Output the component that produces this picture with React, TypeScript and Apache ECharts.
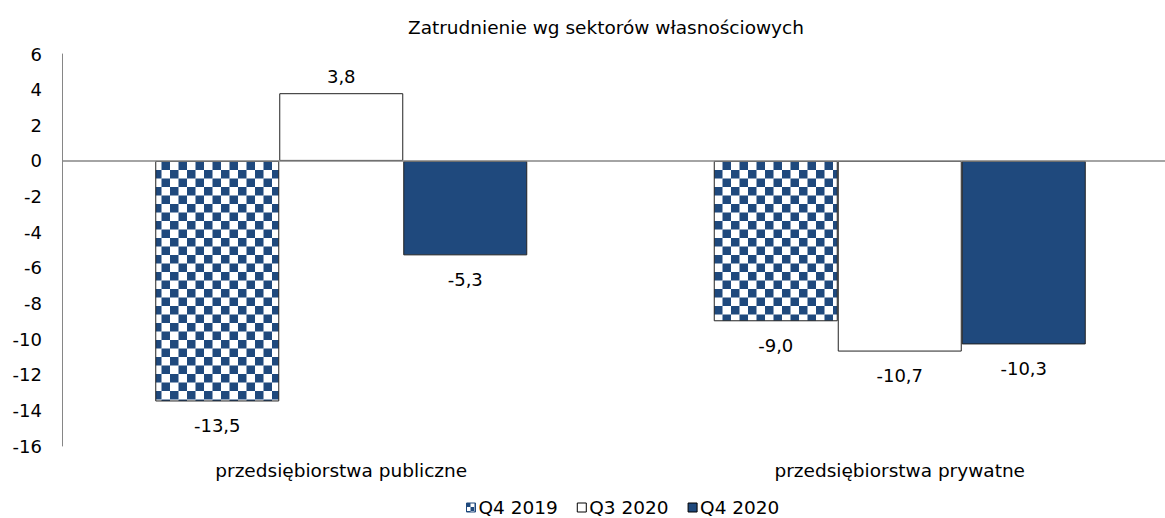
import React, { useEffect, useRef } from "react";
import * as echarts from "echarts";

const categories = ["przedsiębiorstwa publiczne", "przedsiębiorstwa prywatne"];
const seriesNames = ["Q4 2019", "Q3 2020", "Q4 2020"];
const q42019 = [-13.5, -9.0];
const q32020 = [3.8, -10.7];
const q42020 = [-5.3, -10.3];
const titleText = "Zatrudnienie wg sektorów własnościowych";

const BLUE = "#1f497d";
const FONT = "'DejaVu Sans', Verdana, sans-serif";

function makeChecker(size: number) {
  const c = document.createElement("canvas");
  c.width = size * 2;
  c.height = size * 2;
  const ctx = c.getContext("2d")!;
  ctx.fillStyle = "#ffffff";
  ctx.fillRect(0, 0, size * 2, size * 2);
  ctx.fillStyle = BLUE;
  ctx.fillRect(0, 0, size, size);
  ctx.fillRect(size, size, size, size);
  return { image: c, repeat: "repeat", imageWidth: size * 2, imageHeight: size * 2 };
}

const fmt = (v: number) => v.toFixed(1).replace(".", ",");

function buildData(vals: number[]) {
  return vals.map((v) => ({
    value: v,
    label: {
      position: v >= 0 ? "top" : "bottom",
      distance: v >= 0 ? 8 : 15,
    },
  }));
}

export default function App() {
  const ref = useRef<HTMLDivElement>(null);
  useEffect(() => {
    if (!ref.current) return;
    const chart = echarts.init(ref.current, undefined, { renderer: "svg" });
    const bigChecker = makeChecker(8.5);
    const smallChecker = makeChecker(4);
    const labelCommon = {
      show: true,
      color: "#000",
      fontFamily: FONT,
      fontSize: 18,
      formatter: (p: any) => fmt(p.value),
    };
    const barCommon = {
      type: "bar",
      barWidth: 124,
      barGap: "0%",
      label: labelCommon,
    };
    chart.setOption({
      animation: false,
      backgroundColor: "#fff",
      title: {
        text: titleText,
        left: 408,
        top: 18,
        padding: 0,
        textStyle: { fontFamily: FONT, fontSize: 18.5, fontWeight: "normal", color: "#000" },
      },
      legend: {
        left: 466,
        top: 498,
        padding: 0,
        itemWidth: 9,
        itemHeight: 9,
        itemGap: 19,
        textStyle: { fontFamily: FONT, fontSize: 18.5, lineHeight: 18, color: "#000", padding: [0, 0, 0, -2] },
        data: [
          { name: seriesNames[0], icon: "rect", itemStyle: { color: smallChecker, borderColor: BLUE, borderWidth: 1 } },
          { name: seriesNames[1], icon: "rect", itemStyle: { color: "#fff", borderColor: "#000", borderWidth: 1 } },
          { name: seriesNames[2], icon: "rect", itemStyle: { color: BLUE, borderColor: "#000", borderWidth: 1 } },
        ],
      },
      grid: { left: 62, top: 54, height: 392, width: 1117, containLabel: false, outerBoundsMode: "none" },
      xAxis: {
        type: "category",
        data: categories,
        axisLine: { show: false, onZero: false },
        axisTick: { show: false },
        axisLabel: { color: "#000", fontFamily: FONT, fontSize: 18.5, margin: 15 },
      },
      yAxis: {
        type: "value",
        min: -16,
        max: 6,
        interval: 2,
        axisLine: { show: true, lineStyle: { color: "#868686", width: 1 } },
        axisTick: { show: false },
        splitLine: { show: false },
        axisLabel: { color: "#000", fontFamily: FONT, fontSize: 18, margin: 20 },
      },
      series: [
        {
          ...barCommon,
          name: seriesNames[0],
          data: buildData(q42019),
          itemStyle: { color: bigChecker, borderColor: "#222", borderWidth: 1 },
          markLine: {
            silent: true,
            symbol: "none",
            label: { show: false },
            lineStyle: { color: "#868686", width: 1.5, type: "solid" },
            data: [{ yAxis: 0 }],
          },
        },
        {
          ...barCommon,
          name: seriesNames[1],
          data: buildData(q32020),
          itemStyle: { color: "#fff", borderColor: "#222", borderWidth: 1 },
        },
        {
          ...barCommon,
          name: seriesNames[2],
          data: buildData(q42020),
          itemStyle: { color: BLUE, borderColor: "#222", borderWidth: 1 },
        },
      ],
    });
    return () => chart.dispose();
  }, []);
  return <div ref={ref} style={{ width: 1165, height: 518, position: "absolute", left: 0, top: 0 }} />;
}
